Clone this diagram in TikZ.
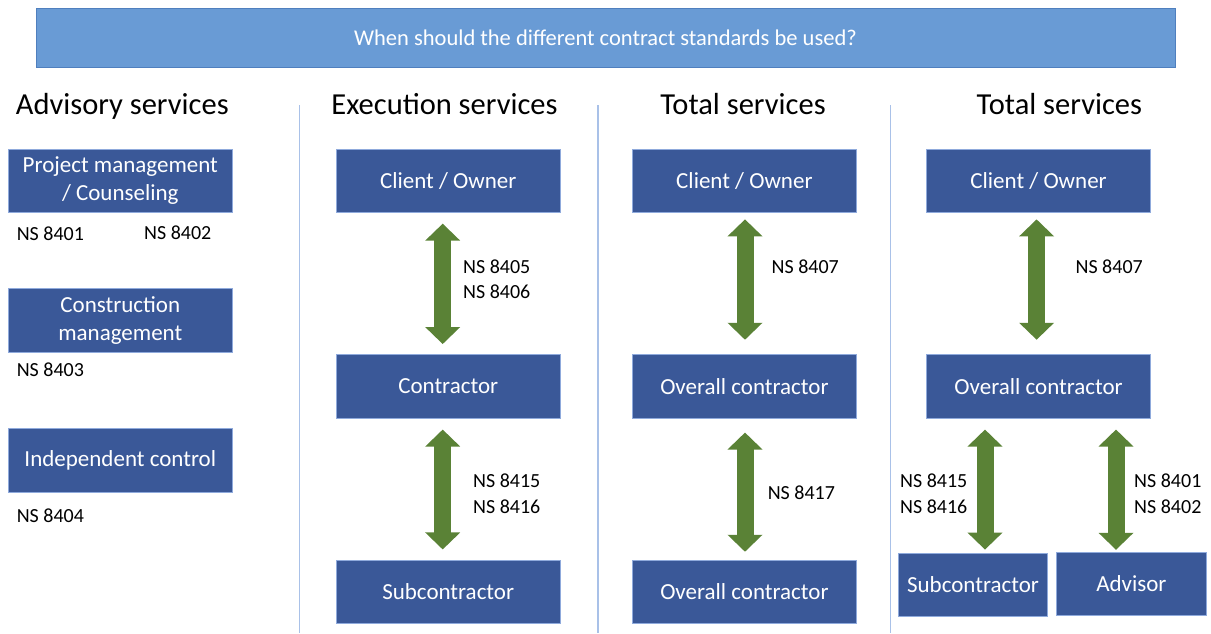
\documentclass[tikz,border=0pt]{standalone}
\usepackage{fontspec}
\setmainfont{Carlito}
\usetikzlibrary{arrows.meta}

\definecolor{barfill}{HTML}{699BD5}
\definecolor{baredge}{HTML}{4F7FBE}
\definecolor{boxfill}{HTML}{3A5898}
\definecolor{boxedge}{HTML}{8FAADC}
\definecolor{arrowgreen}{HTML}{5A8236}
\definecolor{divider}{HTML}{A9C1E8}

\tikzset{
  rolebox/.style={rectangle, fill=boxfill, draw=boxedge, line width=0.8pt,
    text=white, font=\fontsize{23}{28}\selectfont, align=center,
    inner sep=0pt, minimum width=224pt, minimum height=63.7pt},
  smallbox/.style={rolebox, minimum width=149pt, minimum height=63.4pt},
  heading/.style={anchor=base, inner sep=0pt, font=\fontsize{30.5}{36}\selectfont},
  nslabel/.style={anchor=west, inner sep=0pt, align=left,
    font=\fontsize{20}{25.7}\selectfont},
  dividerline/.style={draw=divider, line width=1.2pt},
  bigarrow/.style={draw=arrowgreen, line width=17pt,
    {Triangle[width=34pt,length=17pt]}-{Triangle[width=34pt,length=17pt]}}
}

\begin{document}
\begin{tikzpicture}[x=1pt, y=-1pt]
\useasboundingbox (0,0) rectangle (1211,633);

% title bar
\node[rectangle, fill=barfill, draw=baredge, line width=0.8pt, inner sep=0pt,
  minimum width=1139pt, minimum height=58.7pt, text=white,
  font=\fontsize{22.5}{26}\selectfont] (title) at (605.5,37.7)
  {When should the different contract standards be used?};

% column dividers
\draw[dividerline] (299.6,105) coordinate (d1a) -- (299.6,633) coordinate (d1b);
\draw[dividerline] (598,105) coordinate (d2a) -- (598,633) coordinate (d2b);
\draw[dividerline] (890.3,105) coordinate (d3a) -- (890.3,633) coordinate (d3b);

% column headings
\node[heading] (h1) at (122.3,114) {Advisory services};
\node[heading] (h2) at (444.5,114) {Execution services};
\node[heading] (h3) at (743,114) {Total services};
\node[heading] (h4) at (1059.4,114) {Total services};

% advisory services
\node[rolebox, minimum width=223.3pt] (pm) at (120.3,180.8) {Project management\\/ Counseling};
\node[rolebox, minimum width=223.3pt] (cm) at (120.3,320.7) {Construction\\management};
\node[rolebox, minimum width=223.3pt] (ic) at (120.3,460.5) {Independent control};
\node[nslabel] (ns8401a) at (16.6,234) {NS 8401};
\node[nslabel] (ns8402a) at (144,232.7) {NS 8402};
\node[nslabel] (ns8403) at (16.6,370) {NS 8403};
\node[nslabel] (ns8404) at (16.6,515.3) {NS 8404};

% execution services
\node[rolebox] (c2) at (448.2,180.8) {Client / Owner};
\node[rolebox] (k2) at (448.2,386.3) {Contractor};
\node[rolebox] (s2) at (448.2,592) {Subcontractor};
\draw[bigarrow] ([xshift=-5.5pt,yshift=-10.6pt]c2.south) -- ([xshift=-5.5pt,yshift=10pt]k2.north);
\draw[bigarrow] ([xshift=-5.5pt,yshift=-11pt]k2.south) -- ([xshift=-5.5pt,yshift=10.3pt]s2.north);
\node[nslabel] (ns0506) at (463,279.3) {NS 8405\\NS 8406};
\node[nslabel] (ns1516a) at (473,493.8) {NS 8415\\NS 8416};

% total services
\node[rolebox] (c3) at (744.4,180.8) {Client / Owner};
\node[rolebox] (o3) at (744.4,386.3) {Overall contractor};
\node[rolebox] (u3) at (744.4,592) {Overall contractor};
\draw[bigarrow] ([xshift=0.6pt,yshift=-6.3pt]c3.south) -- ([xshift=0.6pt,yshift=14.3pt]o3.north);
\draw[bigarrow] ([xshift=0.6pt,yshift=-14pt]o3.south) -- ([xshift=0.6pt,yshift=8pt]u3.north);
\node[nslabel] (ns8407a) at (771.5,266.7) {NS 8407};
\node[nslabel] (ns8417) at (767.6,492.7) {NS 8417};

% total services with subcontractor and advisor
\node[rolebox] (c4) at (1038.6,180.8) {Client / Owner};
\node[rolebox] (o4) at (1038.6,386.3) {Overall contractor};
\node[smallbox] (s4) at (973,585) {Subcontractor};
\node[smallbox, minimum width=149.3pt] (a4) at (1131.4,583.9) {Advisor};
\draw[bigarrow] ([xshift=-2pt,yshift=-6.3pt]c4.south) -- ([xshift=-2pt,yshift=14.3pt]o4.north);
\draw[bigarrow] ([xshift=-53.6pt,yshift=-11pt]o4.south) -- ([xshift=12pt,yshift=3.3pt]s4.north);
\draw[bigarrow] ([xshift=77.4pt,yshift=-11pt]o4.south) -- ([xshift=-15.4pt,yshift=2pt]a4.north);
\node[nslabel] (ns8407b) at (1075.4,266.7) {NS 8407};
\node[nslabel] (ns1516b) at (900,493.8) {NS 8415\\NS 8416};
\node[nslabel] (ns0102) at (1134,493.8) {NS 8401\\NS 8402};
\end{tikzpicture}
\end{document}
